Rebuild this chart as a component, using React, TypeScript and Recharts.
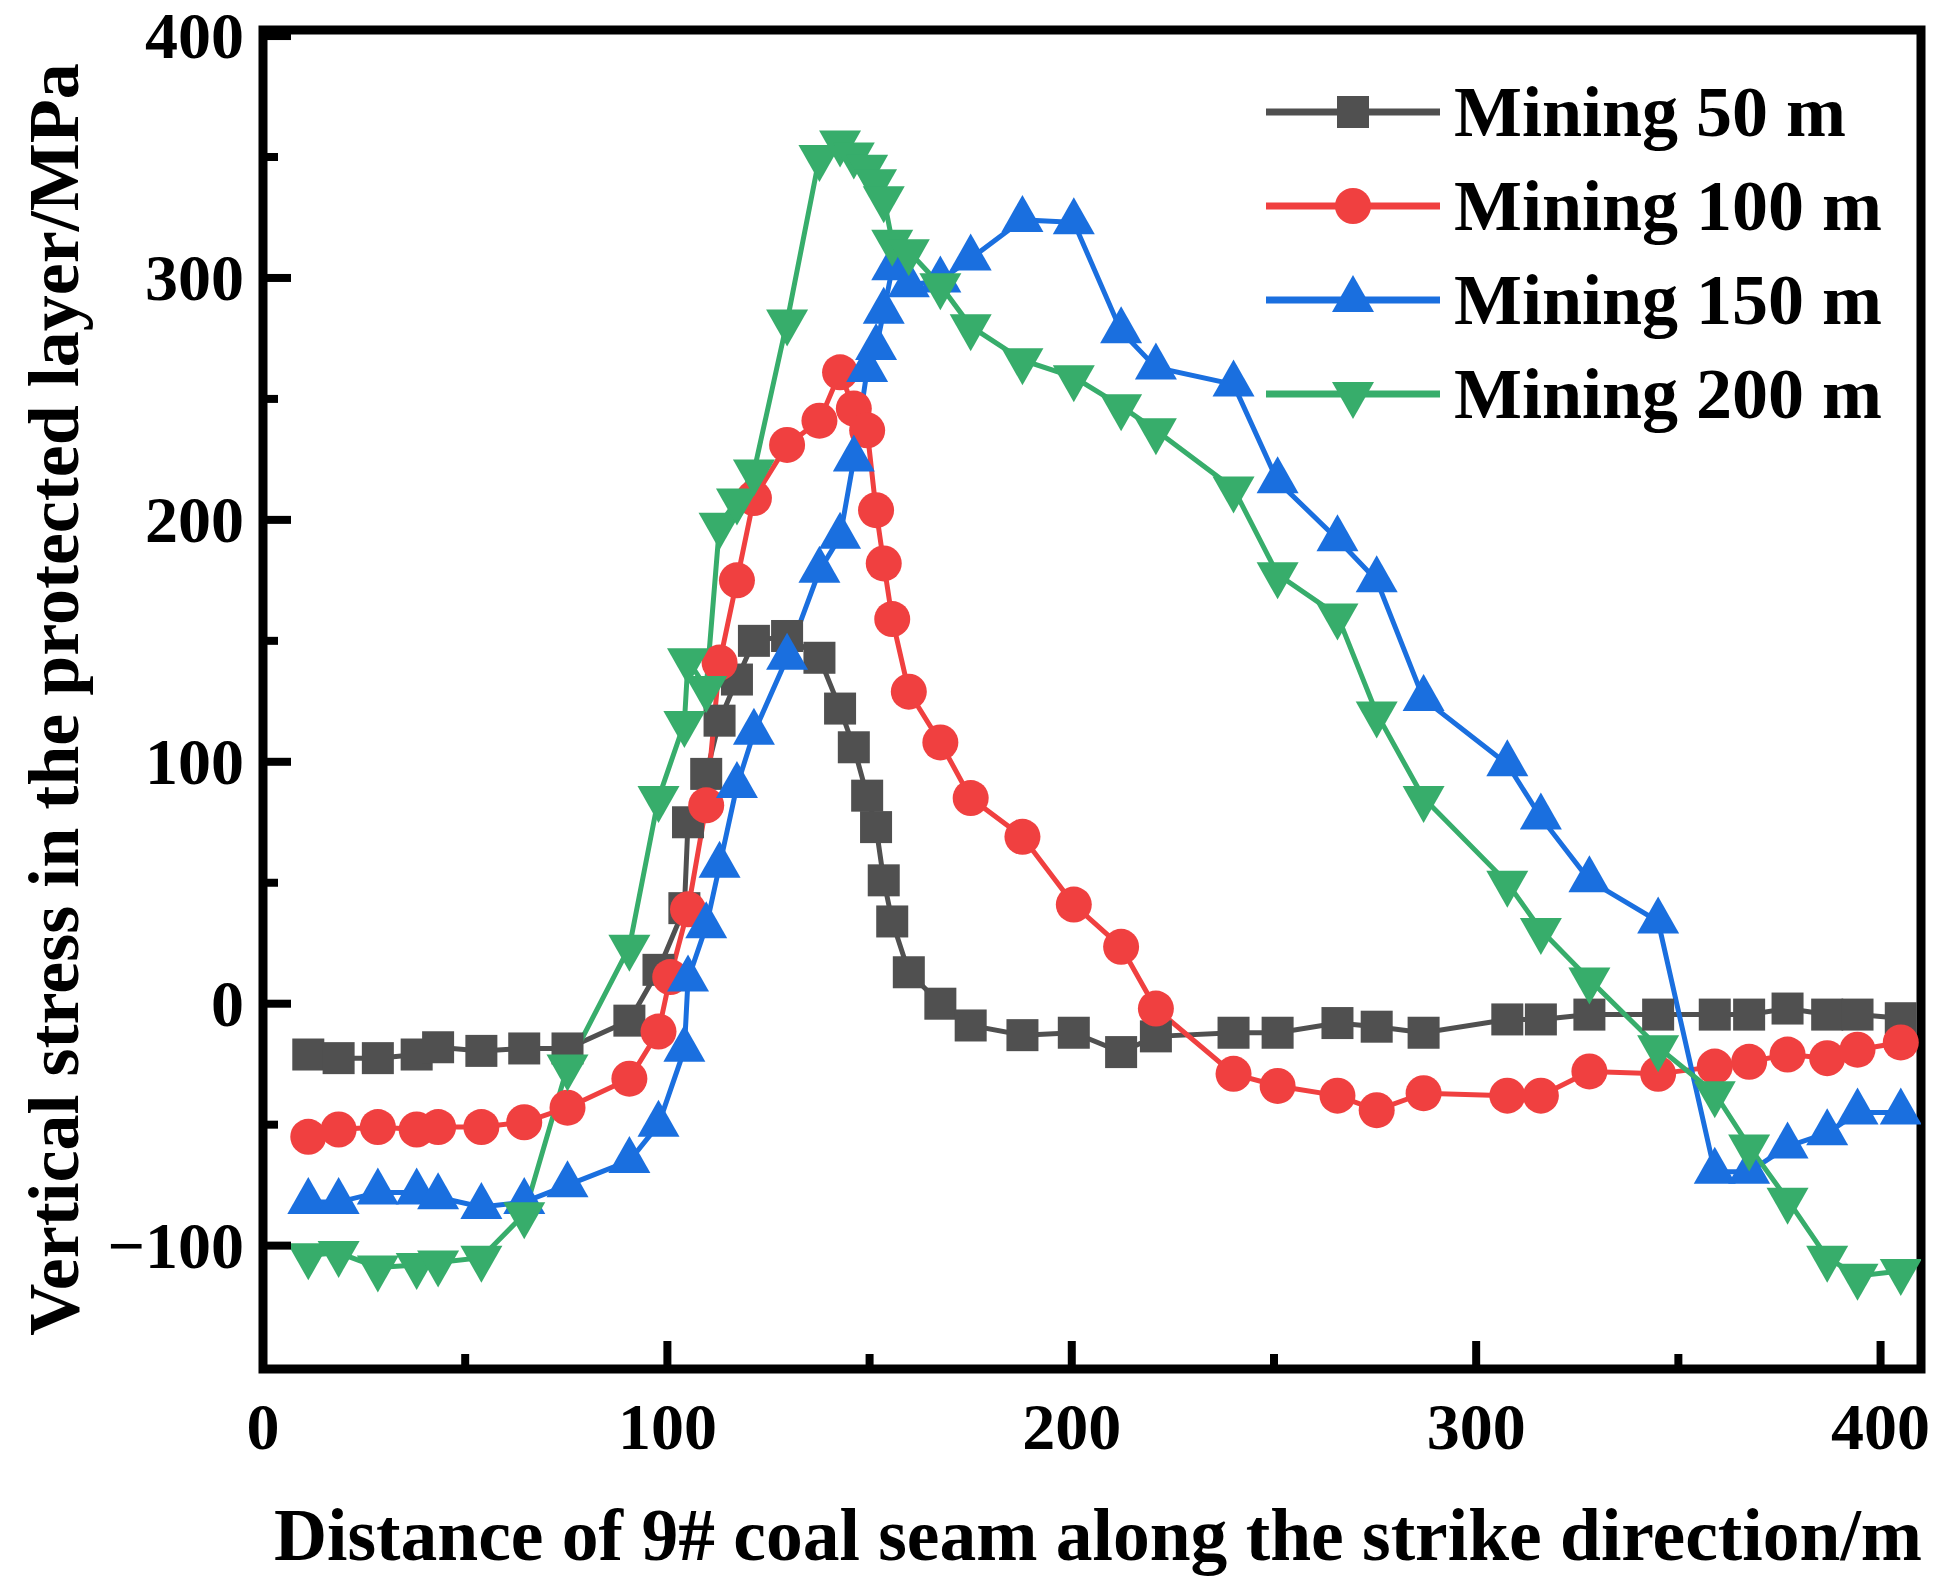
import React from 'react';
import { Legend, Line, LineChart, ReferenceArea, XAxis, YAxis } from 'recharts';

// distance along strike (m), shared by most series
const distance = [
  11.2, 18.7, 28.4, 38, 43.3, 54, 64.6, 75.3, 90.6, 97.8,
  104.2, 105.1, 109.6, 112.9, 117.2, 121.4, 129.6, 137.6, 142.7, 146.1,
  149.4, 151.6, 153.5, 155.6, 159.7, 167.5, 175, 187.8, 200.5, 212.2,
  220.8, 240, 250.9, 265.7, 275.4, 287, 307.7, 316, 328, 345,
  359, 367.5, 377, 386.8, 394.3, 405,
];
// the 100 m run has one node slightly off the common grid
const distance100 = [
  11.2, 18.7, 28.4, 38, 43.3, 54, 64.6, 75.3, 90.6, 97.8,
  100.7, 105.1, 109.6, 112.9, 117.2, 121.4, 129.6, 137.6, 142.7, 146.1,
  149.4, 151.6, 153.5, 155.6, 159.7, 167.5, 175, 187.8, 200.5, 212.2,
  220.8, 240, 250.9, 265.7, 275.4, 287, 307.7, 316, 328, 345,
  359, 367.5, 377, 386.8, 394.3, 405,
];

const mining50 = [
  -21, -22.5, -22.5, -21, -18, -19.5, -18.5, -18.5, -7, 14,
  39.5, 75, 95, 117, 134, 150, 152, 143, 122, 106,
  86, 73, 51, 34, 13, 0, -9, -13, -12, -20,
  -13.5, -12, -12, -8, -9.5, -12, -6.5, -6.5, -4.5, -4.5,
  -4.5, -4.5, -2, -4.5, -4.5, -6,
];
const mining100 = [
  -55, -52, -51, -52, -51, -51, -49, -43, -31, -11.5,
  11, 39, 82, 141, 175, 209, 231, 241, 261, 246,
  237, 204, 182, 159, 129, 108, 85, 69, 41, 23.5,
  -2, -29, -34, -38, -44, -37, -38, -38, -28, -29,
  -26, -24, -21, -22.5, -19, -16,
];
const mining150 = [
  -82, -82, -78, -78, -80, -84, -82, -75, -65, -50,
  -19, 10, 32, 57, 90, 112, 143, 179, 193, 225,
  262, 271, 286, 304, 297, 299, 308, 324, 323, 278,
  263, 256, 216, 192, 175, 126, 99, 77, 51, 34,
  -69.5, -69.5, -59, -53.5, -45, -45,
];
const mining200 = [
  -104, -103, -109, -108, -107, -105, -87, -26, 23.5, 85,
  116, 142, 130.5, 198, 208, 220, 282, 350, 356, 351,
  346, 340, 333, 315, 311, 297, 280, 266, 259, 247,
  237, 213, 177.5, 160.5, 120, 85, 50, 30.5, 10, -18,
  -37, -59, -81, -105, -112.5, -110.5,
];

const xTicks = [0, 50, 100, 150, 200, 250, 300, 350, 400];
const yTicks = [-100, -50, 0, 50, 100, 150, 200, 250, 300, 350, 400];

const FONT = '"Liberation Serif", "Times New Roman", serif';

type MarkerKind = 'square' | 'circle' | 'up' | 'down';

const series: { name: string; color: string; marker: MarkerKind; x: number[]; y: number[] }[] = [
  { name: 'Mining 50 m', color: '#505050', marker: 'square', x: distance, y: mining50 },
  { name: 'Mining 100 m', color: '#F04040', marker: 'circle', x: distance100, y: mining100 },
  { name: 'Mining 150 m', color: '#1A6FDF', marker: 'up', x: distance, y: mining150 },
  { name: 'Mining 200 m', color: '#37AD6B', marker: 'down', x: distance, y: mining200 },
];

function Marker({ cx, cy, kind, color }: { cx: number; cy: number; kind: MarkerKind; color: string }) {
  if (kind === 'square') return <rect x={cx - 16} y={cy - 16} width={32} height={32} fill={color} />;
  if (kind === 'circle') return <circle cx={cx} cy={cy} r={18} fill={color} />;
  if (kind === 'up')
    return <polygon points={`${cx},${cy - 25} ${cx + 21},${cy + 12} ${cx - 21},${cy + 12}`} fill={color} />;
  return <polygon points={`${cx},${cy + 25} ${cx + 21},${cy - 12} ${cx - 21},${cy - 12}`} fill={color} />;
}

const fmt = (v: number) => (v < 0 ? `\u2212${Math.abs(v)}` : `${v}`);

function XTick(props: any) {
  const { x, y, payload } = props;
  const major = payload.value % 100 === 0;
  return (
    <g>
      <line x1={x} x2={x} y1={y} y2={y - (major ? 28 : 15)} stroke="#000" strokeWidth={8} />
      {major && (
        <text x={x} y={y + 80} textAnchor="middle" fontFamily={FONT} fontWeight="bold" fontSize={66} fill="#000">
          {fmt(payload.value)}
        </text>
      )}
    </g>
  );
}

function YTick(props: any) {
  const { x, y, payload } = props;
  const major = payload.value % 100 === 0;
  return (
    <g>
      <line x1={x} x2={x + (major ? 28 : 15)} y1={y} y2={y} stroke="#000" strokeWidth={8} />
      {major && (
        <text x={x - 19} y={y + 22} textAnchor="end" fontFamily={FONT} fontWeight="bold" fontSize={66} fill="#000">
          {fmt(payload.value)}
        </text>
      )}
    </g>
  );
}

function LegendBox() {
  return (
    <div style={{ fontFamily: FONT, fontWeight: 'bold', fontSize: 72, color: '#000' }}>
      {series.map((s) => (
        <div key={s.name} style={{ display: 'flex', alignItems: 'center', height: 94, lineHeight: '94px' }}>
          <svg width={174} height={94}>
            <line x1={0} x2={174} y1={47} y2={47} stroke={s.color} strokeWidth={7} />
            <Marker cx={87} cy={47} kind={s.marker} color={s.color} />
          </svg>
          <span style={{ marginLeft: 14, whiteSpace: 'nowrap' }}>{s.name}</span>
        </div>
      ))}
    </div>
  );
}

export default function App() {
  return (
    <div style={{ position: 'absolute', left: 0, top: 0, width: 1946, height: 1582, background: '#fff' }}>
      <LineChart width={1946} height={1582} margin={{ top: 30, right: 25, bottom: 0, left: 0 }}>
        <XAxis
          type="number"
          dataKey="x"
          domain={[0, 410]}
          ticks={xTicks}
          interval={0}
          tickSize={0}
          tickMargin={0}
          tickLine={false}
          axisLine={false}
          height={213}
          allowDataOverflow
          tick={(p: any) => <XTick {...p} />}
          label={(p: any) => {
            const vb = p.viewBox;
            return (
              <text
                x={vb.x + vb.width / 2 + 6}
                y={vb.y + 191}
                textAnchor="middle"
                fontFamily={FONT}
                fontWeight="bold"
                fontSize={73.5}
                fill="#000"
              >
                Distance of 9# coal seam along the strike direction/m
              </text>
            );
          }}
        />
        <YAxis
          type="number"
          domain={[-151, 402.5]}
          ticks={yTicks}
          interval={0}
          width={263}
          tickSize={0}
          tickMargin={0}
          tickLine={false}
          axisLine={false}
          allowDataOverflow
          tick={(p: any) => <YTick {...p} />}
          label={(p: any) => {
            const vb = p.viewBox;
            const cx = 78;
            const cy = vb.y + vb.height / 2;
            return (
              <text
                x={cx}
                y={cy}
                transform={`rotate(-90, ${cx}, ${cy})`}
                textAnchor="middle"
                fontFamily={FONT}
                fontWeight="bold"
                fontSize={72}
                fill="#000"
              >
                Vertical stress in the protected layer/MPa
              </text>
            );
          }}
        />
        {series.map((s) => (
          <Line
            key={s.name}
            name={s.name}
            data={s.x.map((x, i) => ({ x, y: s.y[i] }))}
            dataKey="y"
            type="linear"
            stroke={s.color}
            strokeWidth={5}
            dot={(p: any) => <Marker key={`${s.name}-${p.index}`} cx={p.cx} cy={p.cy} kind={s.marker} color={s.color} />}
            activeDot={false}
            isAnimationActive={false}
          />
        ))}
        <ReferenceArea
          x1={0}
          x2={410}
          y1={-151}
          y2={402.5}
          fill="none"
          fillOpacity={0}
          stroke="#000"
          strokeWidth={9}
          ifOverflow="visible"
        />
        <Legend
          layout="horizontal"
          verticalAlign="middle"
          align="center"
          wrapperStyle={{ left: 1266, top: 65, width: 680 }}
          content={() => <LegendBox />}
        />
      </LineChart>
    </div>
  );
}
